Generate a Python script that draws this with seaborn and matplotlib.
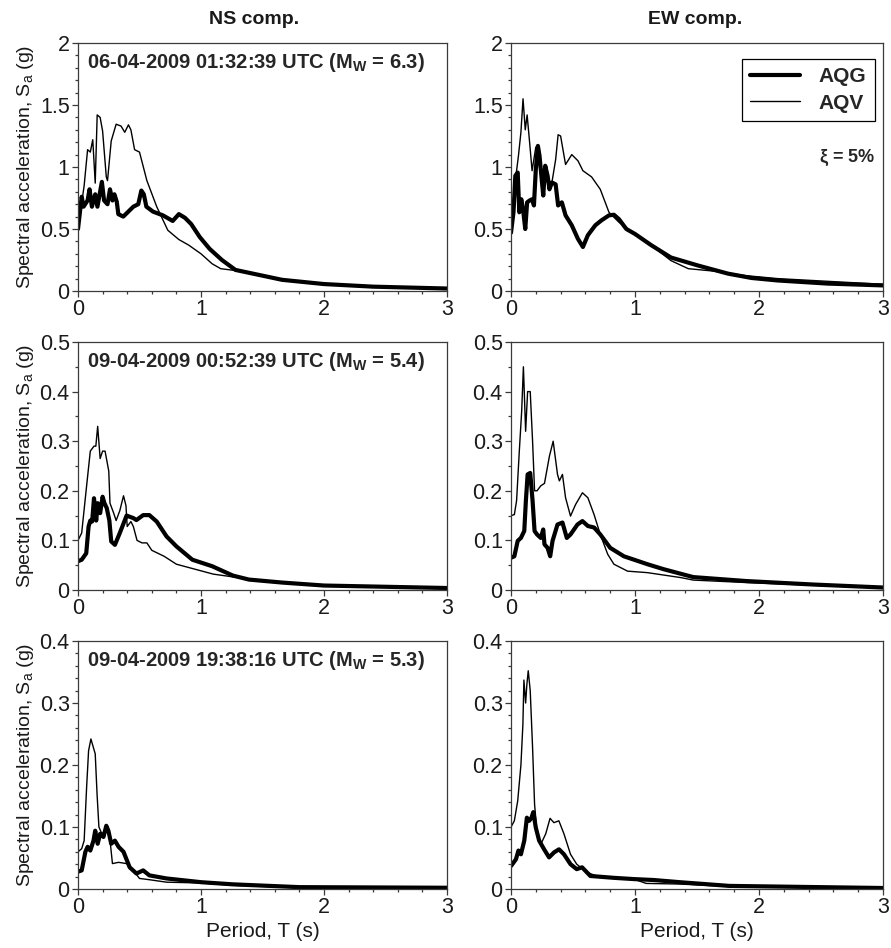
import matplotlib
matplotlib.use("Agg")
import matplotlib.pyplot as plt
from matplotlib.ticker import MultipleLocator
import seaborn as sns
import pandas as pd

# ---- data: response spectra (T in s, Sa in g) ----
# 06-04-2009 01:32:39, NS
t_ns1_aqg = [0, 0.03, 0.045, 0.078, 0.094, 0.113, 0.14, 0.158, 0.194, 0.212, 0.24, 0.26, 0.28, 0.296, 0.315,
             0.328, 0.368, 0.45, 0.49, 0.515, 0.535, 0.556, 0.61, 0.69, 0.77, 0.82, 0.87, 0.92, 0.99, 1.07,
             1.17, 1.28, 1.47, 1.66, 2.0, 2.4, 3.0]
sa_ns1_aqg = [0.50, 0.76, 0.68, 0.73, 0.82, 0.68, 0.78, 0.68, 0.88, 0.73, 0.70, 0.82, 0.73, 0.78, 0.72,
              0.62, 0.60, 0.68, 0.70, 0.81, 0.78, 0.68, 0.64, 0.61, 0.565, 0.62, 0.59, 0.54, 0.435, 0.34,
              0.25, 0.17, 0.13, 0.09, 0.056, 0.035, 0.02]
t_ns1_aqv = [0, 0.05, 0.078, 0.1, 0.12, 0.14, 0.156, 0.18, 0.2, 0.23, 0.24, 0.27, 0.31, 0.35, 0.38, 0.41,
             0.43, 0.46, 0.5, 0.56, 0.64, 0.73, 0.82, 0.9, 1.0, 1.09, 1.16, 1.28, 1.47, 1.66, 2.0, 2.4, 3.0]
sa_ns1_aqv = [0.50, 0.85, 1.14, 1.12, 1.22, 0.87, 1.42, 1.40, 1.29, 0.92, 0.89, 1.21, 1.345, 1.33, 1.28, 1.34,
              1.30, 1.14, 1.12, 0.89, 0.68, 0.49, 0.415, 0.37, 0.30, 0.22, 0.18, 0.165, 0.125, 0.085, 0.053,
              0.033, 0.018]

# 06-04-2009 01:32:39, EW
t_ew1_aqg = [0, 0.02, 0.035, 0.054, 0.067, 0.083, 0.097, 0.115, 0.13, 0.15, 0.17, 0.185, 0.2, 0.217, 0.23,
             0.25, 0.26, 0.276, 0.295, 0.31, 0.33, 0.36, 0.38, 0.41, 0.44, 0.49, 0.54, 0.58, 0.62, 0.68, 0.73,
             0.79, 0.83, 0.87, 0.93, 1.0, 1.13, 1.29, 1.51, 1.75, 1.94, 2.15, 2.55, 3.0]
sa_ew1_aqg = [0.47, 0.635, 0.93, 0.955, 0.635, 0.74, 0.66, 0.50, 0.715, 0.73, 0.74, 0.69, 0.98, 1.17, 1.09,
              0.875, 0.77, 1.01, 0.93, 0.82, 0.875, 0.86, 0.69, 0.715, 0.61, 0.53, 0.42, 0.355, 0.45, 0.53,
              0.57, 0.61, 0.615, 0.58, 0.50, 0.46, 0.37, 0.27, 0.205, 0.14, 0.105, 0.085, 0.06, 0.045]
t_ew1_aqv = [0, 0.03, 0.04, 0.06, 0.08, 0.097, 0.115, 0.13, 0.15, 0.17, 0.2, 0.22, 0.25, 0.28, 0.3, 0.33,
             0.36, 0.38, 0.40, 0.44, 0.49, 0.54, 0.58, 0.65, 0.72, 0.79, 0.87, 1.0, 1.13, 1.29, 1.43, 1.64,
             1.88, 2.15, 3.0]
sa_ew1_aqv = [0.47, 0.69, 0.93, 1.09, 1.28, 1.55, 1.30, 1.42, 1.20, 0.97, 1.16, 1.09, 0.90, 0.98, 0.85, 0.875,
              1.06, 1.26, 1.25, 1.02, 1.10, 1.05, 0.97, 0.92, 0.82, 0.635, 0.555, 0.46, 0.37, 0.245, 0.18,
              0.16, 0.125, 0.10, 0.054]

# 09-04-2009 00:52:39, NS
t_ns2_aqg = [0, 0.03, 0.067, 0.086, 0.1, 0.115, 0.13, 0.148, 0.16, 0.18, 0.2, 0.215, 0.234, 0.255, 0.27, 0.3,
             0.34, 0.395, 0.45, 0.475, 0.53, 0.58, 0.64, 0.72, 0.8, 0.93, 1.09, 1.26, 1.39, 1.66, 2.0, 3.0]
sa_ns2_aqg = [0.058, 0.061, 0.074, 0.128, 0.14, 0.138, 0.185, 0.14, 0.175, 0.155, 0.188, 0.175, 0.165, 0.14,
              0.098, 0.091, 0.115, 0.15, 0.145, 0.141, 0.151, 0.151, 0.138, 0.108, 0.088, 0.061, 0.048,
              0.029, 0.021, 0.015, 0.009, 0.004]
t_ns2_aqv = [0, 0.03, 0.07, 0.1, 0.13, 0.145, 0.16, 0.18, 0.2, 0.22, 0.25, 0.26, 0.29, 0.31, 0.34, 0.37,
             0.39, 0.40, 0.43, 0.45, 0.48, 0.52, 0.56, 0.6, 0.7, 0.8, 0.95, 1.1, 1.3, 1.5, 2.0, 3.0]
sa_ns2_aqv = [0.10, 0.115, 0.21, 0.28, 0.29, 0.29, 0.33, 0.265, 0.28, 0.28, 0.24, 0.175, 0.155, 0.14, 0.16,
              0.19, 0.17, 0.128, 0.138, 0.128, 0.10, 0.095, 0.095, 0.08, 0.068, 0.052, 0.042, 0.032, 0.025,
              0.018, 0.008, 0.003]

# 09-04-2009 00:52:39, EW
t_ew2_aqg = [0, 0.027, 0.054, 0.08, 0.107, 0.12, 0.134, 0.155, 0.174, 0.19, 0.21, 0.24, 0.26, 0.27, 0.295,
             0.316, 0.335, 0.375, 0.415, 0.45, 0.48, 0.536, 0.576, 0.62, 0.67, 0.72, 0.8, 0.91, 1.1, 1.23,
             1.47, 1.9, 2.44, 3.0]
sa_ew2_aqg = [0.065, 0.068, 0.099, 0.105, 0.119, 0.18, 0.233, 0.236, 0.18, 0.119, 0.112, 0.105, 0.122, 0.092,
              0.085, 0.068, 0.099, 0.132, 0.136, 0.105, 0.112, 0.132, 0.139, 0.129, 0.126, 0.112, 0.085,
              0.068, 0.052, 0.042, 0.026, 0.018, 0.011, 0.005]
t_ew2_aqv = [0, 0.027, 0.045, 0.067, 0.086, 0.1, 0.118, 0.134, 0.155, 0.174, 0.19, 0.21, 0.24, 0.27, 0.31,
             0.34, 0.375, 0.39, 0.415, 0.44, 0.48, 0.52, 0.576, 0.62, 0.67, 0.72, 0.78, 0.83, 0.94, 1.1,
             1.37, 1.47, 1.9, 3.0]
sa_ew2_aqv = [0.15, 0.152, 0.18, 0.28, 0.36, 0.45, 0.32, 0.40, 0.40, 0.30, 0.20, 0.20, 0.21, 0.215, 0.27,
              0.30, 0.233, 0.22, 0.233, 0.186, 0.149, 0.172, 0.196, 0.186, 0.152, 0.112, 0.072, 0.052, 0.038,
              0.035, 0.025, 0.02, 0.015, 0.004]

# 09-04-2009 19:38:16, NS
t_ns3_aqg = [0, 0.03, 0.06, 0.078, 0.1, 0.126, 0.14, 0.16, 0.18, 0.207, 0.23, 0.247, 0.27, 0.3, 0.33, 0.37,
             0.42, 0.475, 0.53, 0.58, 0.72, 1.0, 1.26, 1.8, 3.0]
sa_ns3_aqg = [0.028, 0.03, 0.06, 0.068, 0.062, 0.078, 0.094, 0.073, 0.089, 0.084, 0.102, 0.094, 0.073, 0.078,
              0.068, 0.06, 0.035, 0.025, 0.03, 0.022, 0.017, 0.011, 0.0075, 0.003, 0.002]
t_ns3_aqv = [0, 0.03, 0.05, 0.07, 0.086, 0.105, 0.14, 0.155, 0.17, 0.194, 0.22, 0.255, 0.28, 0.33, 0.395,
             0.45, 0.5, 0.58, 0.72, 1.0, 1.26, 1.8, 3.0]
sa_ns3_aqv = [0.06, 0.065, 0.078, 0.164, 0.223, 0.242, 0.218, 0.153, 0.10, 0.089, 0.094, 0.089, 0.041, 0.043,
              0.041, 0.03, 0.017, 0.015, 0.011, 0.0097, 0.006, 0.002, 0.001]

# 09-04-2009 19:38:16, EW
t_ew3_aqg = [0, 0.04, 0.06, 0.08, 0.107, 0.128, 0.147, 0.165, 0.18, 0.2, 0.227, 0.267, 0.307, 0.347, 0.387,
             0.427, 0.48, 0.53, 0.573, 0.64, 0.83, 0.99, 1.15, 1.36, 1.76, 3.0]
sa_ew3_aqg = [0.037, 0.048, 0.062, 0.056, 0.078, 0.115, 0.11, 0.115, 0.124, 0.099, 0.078, 0.064, 0.051, 0.059,
              0.064, 0.056, 0.04, 0.032, 0.035, 0.021, 0.018, 0.016, 0.0145, 0.011, 0.005, 0.0016]
t_ew3_aqv = [0, 0.027, 0.054, 0.08, 0.096, 0.104, 0.118, 0.128, 0.139, 0.155, 0.174, 0.19, 0.21, 0.24, 0.28,
             0.315, 0.346, 0.386, 0.427, 0.48, 0.53, 0.61, 0.69, 0.83, 0.99, 1.09, 1.36, 1.76, 3.0]
sa_ew3_aqv = [0.10, 0.11, 0.142, 0.20, 0.266, 0.337, 0.30, 0.33, 0.352, 0.32, 0.228, 0.137, 0.089, 0.072,
              0.089, 0.114, 0.107, 0.11, 0.089, 0.056, 0.04, 0.027, 0.021, 0.019, 0.016, 0.009, 0.008, 0.004,
              0.0016]

events = ["06-04-2009 01:32:39 UTC", "09-04-2009 00:52:39 UTC", "09-04-2009 19:38:16 UTC"]
magnitudes = ["6.3", "5.4", "5.3"]
components = ["NS comp.", "EW comp."]
stations = ["AQG", "AQV"]
y_max = [2.0, 0.5, 0.4]
y_major = [0.5, 0.1, 0.1]
y_minor = [0.1, 0.05, 0.02]

panels = [
    [(t_ns1_aqg, sa_ns1_aqg, t_ns1_aqv, sa_ns1_aqv), (t_ew1_aqg, sa_ew1_aqg, t_ew1_aqv, sa_ew1_aqv)],
    [(t_ns2_aqg, sa_ns2_aqg, t_ns2_aqv, sa_ns2_aqv), (t_ew2_aqg, sa_ew2_aqg, t_ew2_aqv, sa_ew2_aqv)],
    [(t_ns3_aqg, sa_ns3_aqg, t_ns3_aqv, sa_ns3_aqv), (t_ew3_aqg, sa_ew3_aqg, t_ew3_aqv, sa_ew3_aqv)],
]

sns.set_style("ticks")
plt.rcParams["font.family"] = ["Liberation Sans", "DejaVu Sans"]
plt.rcParams["mathtext.fontset"] = "custom"
plt.rcParams["mathtext.rm"] = "Liberation Sans"
plt.rcParams["mathtext.it"] = "Liberation Sans:italic"
plt.rcParams["mathtext.bf"] = "Liberation Sans:bold"

W, H = 891, 948
fig = plt.figure(figsize=(W / 100, H / 100), dpi=100)

col_left = [78, 511]
col_width = [369, 372]
row_bottom = [291, 590, 889]
row_height = 248
spine_col = "#3a3a3a"
txt_col = "#1a1a1a"

for r in range(3):
    for c in range(2):
        ax = fig.add_axes([col_left[c] / W, 1 - row_bottom[r] / H, col_width[c] / W, row_height / H])
        t_g, s_g, t_v, s_v = panels[r][c]
        df = pd.concat([
            pd.DataFrame({"T": t_v, "Sa": s_v, "station": "AQV"}),
            pd.DataFrame({"T": t_g, "Sa": s_g, "station": "AQG"}),
        ])
        sns.lineplot(data=df[df.station == "AQV"], x="T", y="Sa", ax=ax, color="black",
                     linewidth=1.0, sort=False, estimator=None, label="AQV")
        sns.lineplot(data=df[df.station == "AQG"], x="T", y="Sa", ax=ax, color="black",
                     linewidth=3.0, sort=False, estimator=None, label="AQG")

        ax.set_xlim(0, 3)
        ax.set_ylim(0, y_max[r])
        ax.xaxis.set_major_locator(MultipleLocator(1))
        ax.xaxis.set_minor_locator(MultipleLocator(0.2))
        ax.yaxis.set_major_locator(MultipleLocator(y_major[r]))
        ax.yaxis.set_minor_locator(MultipleLocator(y_minor[r]))
        ax.xaxis.set_major_formatter(plt.FuncFormatter(lambda v, p: f"{v:g}"))
        ax.yaxis.set_major_formatter(plt.FuncFormatter(lambda v, p: f"{v:g}"))
        ax.tick_params(which="both", direction="out", colors=spine_col, labelcolor=txt_col,
                       labelsize=15.5, width=0.9, pad=2)
        ax.tick_params(which="major", length=4)
        ax.tick_params(which="minor", length=2.5)
        for sp in ax.spines.values():
            sp.set_visible(True)
            sp.set_color(spine_col)
            sp.set_linewidth(0.9)

        ax.set_xlabel("Period, T (s)" if r == 2 else "", fontsize=15, color=txt_col)
        if c == 0:
            ax.set_ylabel(r"Spectral acceleration, S$_\mathregular{a}$ (g)", fontsize=14, color=txt_col)
            ax.yaxis.set_label_coords(-0.115, 0.5)
            ax.text(0.024, 0.923, events[r] + r" (M$_\mathregular{W}$ = " + magnitudes[r] + ")",
                    transform=ax.transAxes, fontsize=14.5, fontweight="bold", ha="left", va="center")
        else:
            ax.set_ylabel("")
        if r == 2:
            ax.xaxis.set_label_coords(0.5, -0.135)

        if r == 0 and c == 1:
            h, l = ax.get_legend_handles_labels()
            order = [l.index(s) for s in stations]
            leg = ax.legend([h[i] for i in order], [l[i] for i in order], loc="upper right",
                            bbox_to_anchor=(0.978, 0.935), borderaxespad=0, frameon=True, fancybox=False,
                            edgecolor="black", framealpha=1, handlelength=2.4, handletextpad=0.9,
                            borderpad=0.4, labelspacing=0.35, prop={"weight": "bold", "size": 15})
            leg.get_frame().set_linewidth(0.9)
            ax.text(0.978, 0.536, r"$\mathregular{\xi}$ = 5%", transform=ax.transAxes, fontsize=13,
                    fontweight="bold", ha="right", va="center")
        else:
            lg = ax.get_legend()
            if lg is not None:
                lg.remove()

for c in range(2):
    cx = [254, 695][c]
    fig.text(cx / W, 1 - 20 / H, components[c], fontsize=14, fontweight="bold",
             ha="center", va="center", color=txt_col)

fig.savefig("out.png", dpi=100)
